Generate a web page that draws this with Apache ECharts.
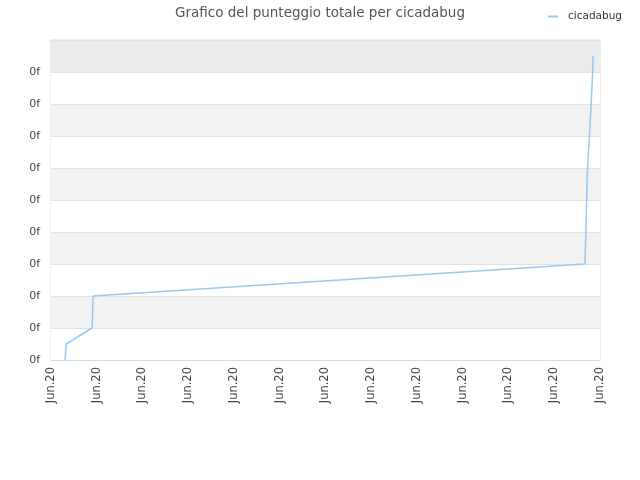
<!DOCTYPE html>
<html>
<head>
<meta charset="utf-8">
<script src="https://cdn.jsdelivr.net/npm/echarts@6/dist/echarts.min.js"></script>
<style>
  html, body { margin: 0; padding: 0; background: #fff; }
  #chart { width: 640px; height: 480px; }
</style>
</head>
<body>
<div id="chart"></div>
<script>
// x positions in tick units (12 intervals, every tick labelled "Jun.20")
const xTicks = ['Jun.20', 'Jun.20', 'Jun.20', 'Jun.20', 'Jun.20', 'Jun.20', 'Jun.20',
  'Jun.20', 'Jun.20', 'Jun.20', 'Jun.20', 'Jun.20', 'Jun.20']
const xPos = [0.31, 0.33, 0.90, 0.92, 11.67, 11.69, 11.72, 11.76, 11.80, 11.83, 11.85]
const scores = [0, 0.5, 1.0, 2.0, 3.0, 3.9, 5.8, 6.8, 7.8, 8.7, 9.5]
const bandColors = ['#ffffff', '#f2f2f2', '#ffffff', '#f2f2f2', '#ffffff',
  '#f2f2f2', '#ffffff', '#f2f2f2', '#ffffff', '#ececec']

const chart = echarts.init(document.getElementById('chart'))

chart.setOption({
  animation: false,
  title: {
    text: 'Grafico del punteggio totale per cicadabug',
    left: 'center',
    top: 1,
    textStyle: { fontFamily: 'DejaVu Sans', fontSize: 13.5, fontWeight: 'normal', color: '#555' }
  },
  legend: {
    right: 13,
    top: 6,
    itemWidth: 10,
    itemHeight: 2,
    icon: 'rect',
    textStyle: { fontFamily: 'DejaVu Sans', fontSize: 10.5, color: '#333', padding: [0, 0, 0, 5] },
    data: ['cicadabug']
  },
  grid: {
    left: 51, right: 40, top: 40, bottom: 120,
    show: true, borderColor: '#dcdcdc', borderWidth: 1
  },
  xAxis: {
    type: 'value',
    min: 0, max: 12, interval: 1,
    axisLine: { show: true, lineStyle: { color: '#dcdcdc' } },
    axisTick: { show: false },
    splitLine: { show: false },
    axisLabel: {
      rotate: 90,
      color: '#444',
      fontFamily: 'DejaVu Sans',
      fontSize: 11.5,
      margin: 7,
      formatter: (v) => xTicks[Math.round(v)]
    }
  },
  yAxis: {
    type: 'value',
    min: 0, max: 10, interval: 1,
    axisLine: { show: false },
    axisTick: { show: false },
    splitLine: { show: true, lineStyle: { color: '#e2e2e2' } },
    splitArea: { show: true, areaStyle: { color: bandColors } },
    axisLabel: {
      showMaxLabel: false,
      color: '#444',
      fontFamily: 'DejaVu Sans',
      fontSize: 11,
      margin: 11,
      formatter: () => '0f'
    }
  },
  series: [{
    name: 'cicadabug',
    type: 'line',
    data: xPos.map((x, i) => [x, scores[i]]),
    symbol: 'none',
    lineStyle: { color: '#99c8f2', width: 1.5 },
    itemStyle: { color: '#99c8f2' }
  }]
})
</script>
</body>
</html>
